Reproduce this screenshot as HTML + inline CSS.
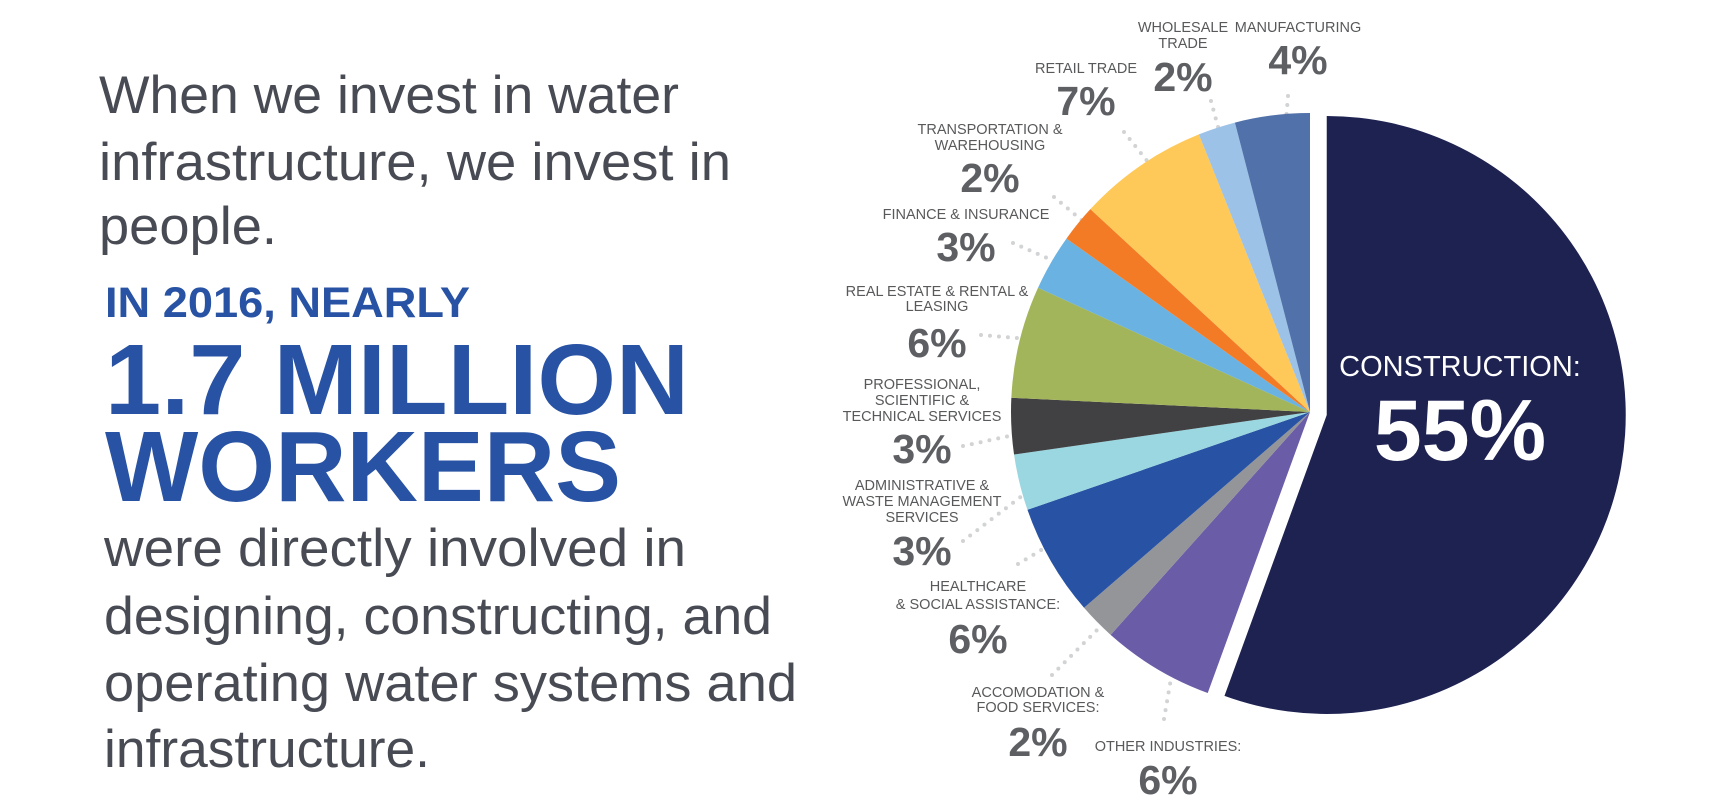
<!DOCTYPE html>
<html><head><meta charset="utf-8"><style>
html,body{margin:0;padding:0;background:#fff;}
svg{display:block;font-family:"Liberation Sans",sans-serif;}
</style></head><body>
<svg id="chart" width="1721" height="811" viewBox="0 0 1721 811" xmlns="http://www.w3.org/2000/svg">
<g fill="#484b53" font-size="53">
<text x="99" y="113" textLength="580" lengthAdjust="spacingAndGlyphs">When we invest in water</text>
<text x="99" y="180" textLength="632" lengthAdjust="spacingAndGlyphs">infrastructure, we invest in</text>
<text x="99" y="244" textLength="178" lengthAdjust="spacingAndGlyphs">people.</text>
</g>
<g fill="#2852a3" font-weight="bold">
<text x="105" y="317" font-size="43" textLength="365" lengthAdjust="spacingAndGlyphs">IN 2016, NEARLY</text>
<text x="105" y="414" font-size="100" textLength="584" lengthAdjust="spacingAndGlyphs">1.7 MILLION</text>
<text x="105" y="501" font-size="100" textLength="516" lengthAdjust="spacingAndGlyphs">WORKERS</text>
</g>
<g fill="#484b53" font-size="53">
<text x="104" y="566" textLength="582" lengthAdjust="spacingAndGlyphs">were directly involved in</text>
<text x="104" y="634" textLength="668" lengthAdjust="spacingAndGlyphs">designing, constructing, and</text>
<text x="104" y="701" textLength="693" lengthAdjust="spacingAndGlyphs">operating water systems and</text>
<text x="104" y="767" textLength="326" lengthAdjust="spacingAndGlyphs">infrastructure.</text>
</g>
<g id="leaders"></g>
<g id="pie"></g>
<g id="labels"></g>
<g fill="#fff" text-anchor="middle">
<text x="1460" y="376" font-size="29">CONSTRUCTION:</text>
<text x="1460" y="460" font-size="86" font-weight="bold">55%</text>
</g>
</svg>
<script>
const categories = ["Construction","Other Industries","Accomodation & Food Services","Healthcare & Social Assistance","Administrative & Waste Management Services","Professional, Scientific & Technical Services","Real Estate & Rental & Leasing","Finance & Insurance","Transportation & Warehousing","Retail Trade","Wholesale Trade","Manufacturing"];
const values = [55,6,2,6,3,3,6,3,2,7,2,4];
const colors = ["#1e2251","#6b5ca8","#939598","#2852a3","#9bd7e1","#414042","#a3b55a","#6ab2e2","#f47b26","#fec958","#9cc2e8","#5171aa"];

const NS="http://www.w3.org/2000/svg";
const cx=1310, cy=412, r=299;
const total=values.reduce((a,b)=>a+b,0);
function angleOf(v){return v/total*2*Math.PI;}
function pt(a,rad,ox,oy){return [ox+rad*Math.sin(a), oy-rad*Math.cos(a)];}
const pie=document.getElementById('pie');
let start=0;
values.forEach((v,i)=>{
  const a=angleOf(v), end=start+a;
  let ox=cx, oy=cy;
  if(i===0){const mid=start+a/2; ox=cx+17*Math.sin(mid); oy=cy-17*Math.cos(mid);}
  const p1=pt(start,r,ox,oy), p2=pt(end,r,ox,oy);
  const large=a>Math.PI?1:0;
  const path=document.createElementNS(NS,'path');
  path.setAttribute('d',`M${ox},${oy} L${p1[0]},${p1[1]} A${r},${r} 0 ${large} 1 ${p2[0]},${p2[1]} Z`);
  path.setAttribute('fill',colors[i]);
  
  
  pie.appendChild(path);
  start=end;
});

const leaders=[[1288,96,1283,158],[1211,101,1230,171],[1124,132,1168,187],[1054,197,1109,243],[1013,243,1081,273],[981,335,1054,341],[963,446,1060,425],[963,541,1052,473],[1018,564,1066,535],[1052,675,1130,597],[1164,719,1177,644]];
const lg=document.getElementById('leaders');
leaders.forEach(l=>{
  const ln=document.createElementNS(NS,'line');
  ln.setAttribute('x1',l[0]);ln.setAttribute('y1',l[1]);ln.setAttribute('x2',l[2]);ln.setAttribute('y2',l[3]);
  ln.setAttribute('stroke','#d1d3d4');ln.setAttribute('stroke-width','4');ln.setAttribute('stroke-linecap','round');ln.setAttribute('stroke-dasharray','0 9');
  
  
  lg.appendChild(ln);
});

const labelDefs=[
 [1298,["MANUFACTURING"],[32],"4%",74],
 [1183,["WHOLESALE","TRADE"],[32,48],"2%",91],
 [1086,["RETAIL TRADE"],[73],"7%",115],
 [990,["TRANSPORTATION &","WAREHOUSING"],[134,150],"2%",192],
 [966,["FINANCE & INSURANCE"],[219],"3%",261],
 [937,["REAL ESTATE & RENTAL &","LEASING"],[296,311],"6%",357],
 [922,["PROFESSIONAL,","SCIENTIFIC &","TECHNICAL SERVICES"],[389,405,421],"3%",463],
 [922,["ADMINISTRATIVE &","WASTE MANAGEMENT","SERVICES"],[490,506,522],"3%",565],
 [978,["HEALTHCARE","& SOCIAL ASSISTANCE:"],[591,609],"6%",653],
 [1038,["ACCOMODATION &","FOOD SERVICES:"],[697,712],"2%",756],
 [1168,["OTHER INDUSTRIES:"],[751],"6%",794]
];
const lb=document.getElementById('labels');
labelDefs.forEach(d=>{
  const g=document.createElementNS(NS,'g');
  
  
  d[1].forEach((t,k)=>{
    const tx=document.createElementNS(NS,'text');
    tx.setAttribute('x',d[0]);tx.setAttribute('y',d[2][k]);tx.setAttribute('text-anchor','middle');
    tx.setAttribute('font-size','14.5');tx.setAttribute('fill','#58595b');
    tx.textContent=t;
    
    
    g.appendChild(tx);
  });
  const p=document.createElementNS(NS,'text');
  p.setAttribute('x',d[0]);p.setAttribute('y',d[4]);p.setAttribute('text-anchor','middle');
  p.setAttribute('font-size','41');p.setAttribute('font-weight','bold');p.setAttribute('fill','#5d5f63');
  p.textContent=d[3];
  
  
  g.appendChild(p);
  lb.appendChild(g);
});
</script>
</body></html>
